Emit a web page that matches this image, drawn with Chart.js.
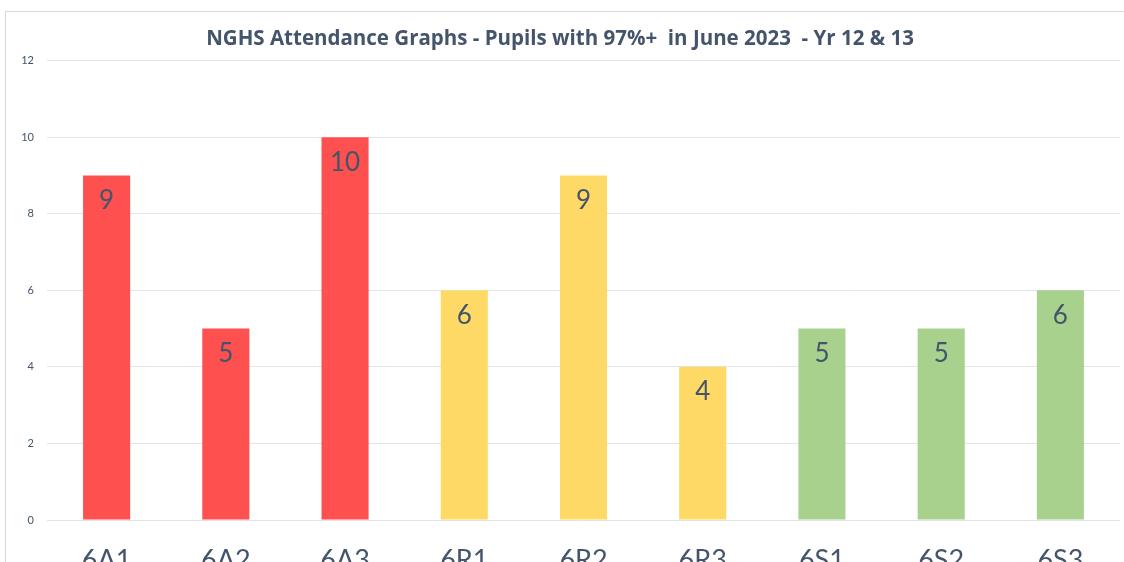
<!DOCTYPE html>
<html>
<head>
<meta charset="utf-8">
<title>NGHS Attendance</title>
<script src="https://cdn.jsdelivr.net/npm/chart.js@4.4.0/dist/chart.umd.min.js"></script>
<style>
  html, body { margin: 0; padding: 0; background: #fff; overflow: hidden; }
  #wrap { position: absolute; left: 0; top: 0; width: 1124px; height: 600px; }
</style>
</head>
<body>
<div id="wrap"><canvas id="attendanceChart" width="1124" height="600"></canvas></div>
<script>
const forms = ['6A1', '6A2', '6A3', '6R1', '6R2', '6R3', '6S1', '6S2', '6S3'];
const pupils97 = [9, 5, 10, 6, 9, 4, 5, 5, 6];
const barColours = ['#FF5050', '#FF5050', '#FF5050', '#FFD966', '#FFD966', '#FFD966', '#A9D18E', '#A9D18E', '#A9D18E'];
const yTicks = [0, 2, 4, 6, 8, 10, 12];

const textColour = '#44546A';

// light frame round the chart, like the Excel chart border
const framePlugin = {
    id: 'frame',
    beforeDraw(chart) {
        const ctx = chart.ctx;
        ctx.save();
        ctx.strokeStyle = '#D9D9D9';
        ctx.lineWidth = 1;
        ctx.strokeRect(5.5, 11.5, 1300, 800);
        ctx.restore();
    }
};

// value labels inside the top of each bar
const valueLabels = {
    id: 'valueLabels',
    afterDatasetsDraw(chart) {
        const ctx = chart.ctx;
        const meta = chart.getDatasetMeta(0);
        ctx.save();
        ctx.font = '26px Lato';
        ctx.fillStyle = textColour;
        ctx.textAlign = 'center';
        ctx.textBaseline = 'middle';
        meta.data.forEach((bar, i) => {
            ctx.fillText(String(pupils97[i]), bar.x, bar.y + 25);
        });
        ctx.restore();
    }
};

const ctx = document.getElementById('attendanceChart').getContext('2d');
new Chart(ctx, {
    type: 'bar',
    data: {
        labels: forms,
        datasets: [{
            label: 'Pupils with 97%+',
            data: pupils97,
            backgroundColor: barColours,
            borderWidth: 0,
            categoryPercentage: 1,
            barPercentage: 0.395
        }]
    },
    options: {
        responsive: false,
        animation: false,
        layout: { padding: { left: 0, right: 4, top: 0, bottom: 0 } },
        plugins: {
            legend: { display: false },
            tooltip: { enabled: false },
            title: {
                display: true,
                text: 'NGHS Attendance Graphs - Pupils with 97%+  in June 2023  - Yr 12 & 13',
                color: textColour,
                font: { family: 'Open Sans', size: 20.5, weight: 'bold' },
                padding: { top: 27, bottom: 9 }
            }
        },
        scales: {
            x: {
                grid: { display: false },
                border: { display: false },
                ticks: {
                    color: textColour,
                    font: { family: 'Lato', size: 27 },
                    padding: 16
                },
                afterFit(scale) { scale.height = 80; }
            },
            y: {
                min: 0,
                max: 12,
                afterBuildTicks(scale) { scale.ticks = yTicks.map(v => ({ value: v })); },
                grid: { color: '#E1E5EA', drawTicks: false },
                border: { display: false },
                ticks: {
                    color: textColour,
                    font: { family: 'Lato', size: 11 },
                    padding: 13
                },
                afterFit(scale) { scale.width = 47; }
            }
        }
    },
    plugins: [framePlugin, valueLabels]
});
</script>
</body>
</html>
